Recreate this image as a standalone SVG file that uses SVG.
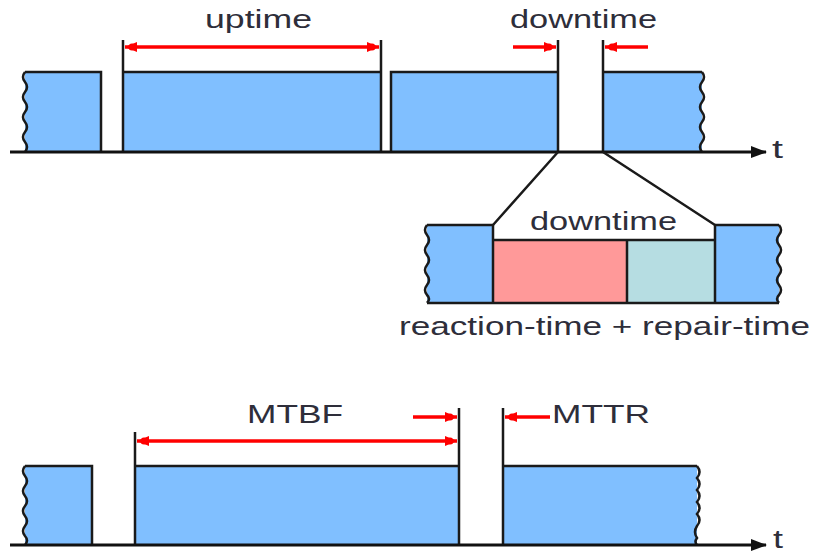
<svg xmlns="http://www.w3.org/2000/svg" width="816" height="554" viewBox="0 0 816 554">
<defs>
<style>
.blk{fill:#80bfff;stroke:none}
.edge{fill:none;stroke:#1a1a1a;stroke-width:2.5;stroke-linejoin:miter}
.ax{fill:none;stroke:#111;stroke-width:3}
.red{fill:none;stroke:#ff0000;stroke-width:3.5}
.lbl{font-family:"Liberation Sans",Arial,sans-serif;font-size:25px;fill:#2e2e3a}
</style>
<marker id="rh" viewBox="0 0 12 10" refX="12" refY="5" markerWidth="12" markerHeight="10" markerUnits="userSpaceOnUse" orient="auto-start-reverse">
<path d="M0 0 L12 5 L0 10 Z" fill="#ff0000"/>
<circle cx="5" cy="5" r="3.5" fill="#ff0000"/>
</marker>
<marker id="ah" viewBox="0 0 16 12" refX="15" refY="6" markerWidth="16" markerHeight="12" markerUnits="userSpaceOnUse" orient="auto">
<path d="M0 0 L16 6 L0 12 Z" fill="#111"/>
</marker>
</defs>
<rect width="816" height="554" fill="#ffffff"/>

<g id="top-row">
<rect class="blk" x="25" y="72" width="77" height="80"/>
<path class="edge" d="M25 72 H101 V152"/>
<path class="edge" d="M25 72 q-4 5 0 10 q4 5 0 10 q-4 5 0 10 q4 5 0 10 q-4 5 0 10 q4 5 0 10 q-4 5 0 10 q4 5 0 10"/>
<rect class="blk" x="123" y="72" width="258" height="80"/>
<path class="edge" d="M123 152 V40 M123 72 H381 M381 40 V152"/>
<rect class="blk" x="391" y="72" width="167" height="80"/>
<path class="edge" d="M391 152 V72 H558 M558 40 V152"/>
<rect class="blk" x="603" y="72" width="99" height="80"/>
<path class="edge" d="M603 40 V152 M603 72 H702"/>
<path class="edge" d="M702 72 q4 5 0 10 q-4 5 0 10 q4 5 0 10 q-4 5 0 10 q4 5 0 10 q-4 5 0 10 q4 5 0 10 q-4 5 0 10"/>
<text class="lbl" x="205" y="28" textLength="107" lengthAdjust="spacingAndGlyphs">uptime</text>
<text class="lbl" x="510" y="28" textLength="147" lengthAdjust="spacingAndGlyphs">downtime</text>
<text class="lbl" x="772" y="158" textLength="11" lengthAdjust="spacingAndGlyphs">t</text>
</g>

<g id="inset">
<rect class="blk" x="427" y="225" width="66" height="78"/>
<rect x="493" y="240" width="134" height="63" fill="#ff9999"/>
<rect x="627" y="240" width="88" height="63" fill="#b6dde2"/>
<rect class="blk" x="715" y="225" width="64" height="78"/>
<path class="edge" d="M427 225 H493 V303 H427 M493 240 H715 M627 240 V303 M493 303 H715 M715 225 V303 M715 225 H779 M715 303 H779"/>
<path class="edge" d="M427 225 q-4 5 0 10 q4 5 0 10 q-4 5 0 10 q4 5 0 10 q-4 5 0 10 q4 5 0 10 q-4 5 0 10 q4 4 0 8"/>
<path class="edge" d="M779 225 q4 5 0 10 q-4 5 0 10 q4 5 0 10 q-4 5 0 10 q4 5 0 10 q-4 5 0 10 q4 5 0 10 q-4 4 0 8"/>
<text class="lbl" x="530" y="230" textLength="147" lengthAdjust="spacingAndGlyphs">downtime</text>
<text class="lbl" x="399" y="335" font-size="26" textLength="411" lengthAdjust="spacingAndGlyphs">reaction-time + repair-time</text>
</g>

<g id="bottom-row">
<rect class="blk" x="25" y="466" width="67" height="79"/>
<path class="edge" d="M25 466 H92 V545"/>
<path class="edge" d="M25 466 q-4 5 0 10 q4 5 0 10 q-4 5 0 10 q4 5 0 10 q-4 5 0 10 q4 5 0 10 q-4 5 0 10 q4 4.5 0 9"/>
<rect class="blk" x="135" y="466" width="324" height="79"/>
<path class="edge" d="M135 545 V432 M135 466 H459 M459 408 V545"/>
<rect class="blk" x="503" y="466" width="194" height="79"/>
<path class="edge" d="M503 408 V545 M503 466 H697"/>
<path class="edge" d="M697 466 q5 6 0 12 q5 6 0 12 q5 6 0 12 q5 6 0 12 q5 6 0 12 q-4 6 0 12 q-3 4 0 7"/>
<text class="lbl" x="247" y="423" textLength="96" lengthAdjust="spacingAndGlyphs">MTBF</text>
<text class="lbl" x="552" y="423" textLength="98" lengthAdjust="spacingAndGlyphs">MTTR</text>
<text class="lbl" x="773" y="548" font-size="20" textLength="10" lengthAdjust="spacingAndGlyphs">t</text>
</g>

<g id="connectors">
<path class="ax" d="M10 152 H766" marker-end="url(#ah)"/>
<path class="ax" d="M10 545 H766" marker-end="url(#ah)"/>
<path class="red" d="M125 47 H379" marker-start="url(#rh)" marker-end="url(#rh)"/>
<path class="red" d="M513 47 H556" marker-end="url(#rh)"/>
<path class="red" d="M648 47 H605" marker-end="url(#rh)"/>
<path class="edge" d="M558 152 L493 225 M603 152 L715 225"/>
<path class="red" d="M137 441 H457" marker-start="url(#rh)" marker-end="url(#rh)"/>
<path class="red" d="M413 417 H457" marker-end="url(#rh)"/>
<path class="red" d="M550 417 H505" marker-end="url(#rh)"/>
</g>
</svg>
